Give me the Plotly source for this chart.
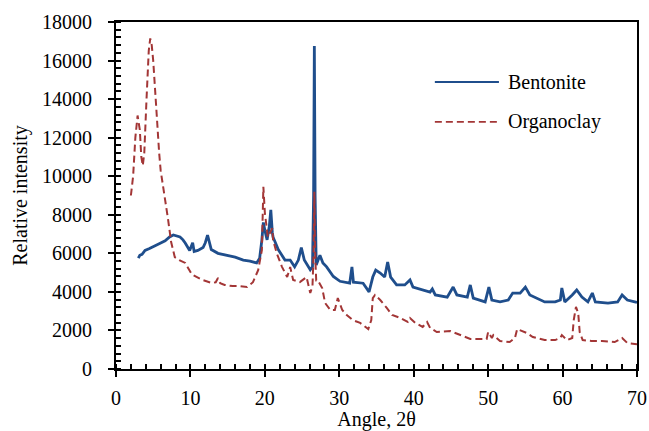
import plotly.graph_objects as go

# ---- data ----
bent_x = [3.0, 3.2, 3.5, 3.9, 4.5, 5.2, 5.8, 6.6, 7.2, 7.7, 8.2, 8.6, 9.0, 9.3, 9.9, 10.2, 10.3, 10.5,
          11.0, 11.7, 12.0, 12.3, 12.6, 12.8, 13.7, 15.0, 16.0, 17.1, 18.0, 18.9, 19.3, 19.6, 19.8,
          20.0, 20.3, 20.6, 20.8, 21.0, 21.1, 21.8, 22.7, 23.4, 24.0, 24.5, 24.9, 25.3, 26.1, 26.4,
          26.55, 26.65, 26.75, 26.9, 27.0, 27.4, 27.8, 28.3, 29.2, 30.1, 31.4, 31.7, 31.9, 32.8,
          33.2, 34.0, 34.5, 34.9, 35.5, 36.1, 36.5, 36.9, 37.7, 38.8, 39.5, 39.9, 41.2, 42.2, 42.5,
          42.9, 44.5, 45.3, 45.8, 47.2, 47.6, 48.0, 49.6, 50.1, 50.5, 51.6, 52.7, 53.3, 54.3, 55.0,
          55.6, 57.0, 57.6, 59.0, 59.7, 59.9, 60.3, 61.3, 61.9, 62.6, 63.4, 64.0, 64.4, 66.1, 67.4,
          68.0, 68.7, 69.7, 70.0]
bent_y = [5750, 5900, 5950, 6150, 6250, 6400, 6500, 6650, 6850, 6950, 6900, 6850, 6700, 6540, 6150, 6400, 6550, 6100,
          6150, 6300, 6550, 6950, 6400, 6200, 6000, 5900, 5800, 5650, 5600, 5500, 5750, 6700, 7600,
          7200, 6700, 7400, 8250, 7100, 6850, 6200, 5650, 5650, 5300, 5650, 6300, 5650, 5150, 5300,
          9000, 16750, 9000, 5400, 5500, 5900, 5500, 5300, 4800, 4550, 4450, 5300, 4500, 4450,
          4450, 4000, 4770, 5130, 4980, 4770, 5550, 4770, 4360, 4360, 4620, 4250, 4100, 3990, 4150,
          3840, 3730, 4250, 3840, 3730, 4360, 3680, 3480, 4250, 3580, 3480, 3580, 3940, 3940, 4250,
          3840, 3580, 3480, 3480, 3580, 4200, 3480, 3840, 4100, 3730, 3480, 3940, 3480, 3420, 3480,
          3840, 3580, 3480, 3450]

org_x = [2.0, 2.3, 2.6, 2.9, 3.2, 3.4, 3.6, 3.8, 4.1, 4.4, 4.6, 4.8, 5.0, 5.3, 5.5, 5.8, 6.0, 6.3,
         6.6, 7.0, 7.4, 7.9, 8.5, 9.3, 10.2, 11.6, 12.9, 13.4, 13.7, 14.0, 14.6, 15.7, 16.5, 17.6,
         18.4, 19.1, 19.6, 19.8, 20.0, 20.3, 20.4, 21.0, 21.1, 21.6, 22.3, 23.0, 23.4, 23.8, 24.7,
         25.6, 26.1, 26.4, 26.55, 26.65, 26.75, 26.9, 27.1, 27.7, 28.1, 28.8, 29.4, 29.8, 30.4,
         31.0, 31.8, 32.8, 33.9, 34.3, 34.5, 34.8, 35.5, 36.4, 37.1, 38.2, 39.2, 39.5, 40.2, 41.2,
         41.8, 42.2, 43.1, 44.9, 46.2, 47.6, 48.9, 49.8, 50.0, 50.5, 50.7, 51.6, 52.9, 53.6, 53.9,
         54.3, 55.2, 56.0, 57.0, 57.6, 59.0, 59.7, 59.9, 60.6, 61.3, 61.5, 61.8, 62.1, 62.3, 62.7,
         63.9, 65.3, 67.0, 68.0, 68.7, 69.7, 70.0]
org_y = [9000, 10000, 12000, 13150, 12400, 11000, 10550, 11200, 14000, 16500, 17150, 16800, 16000, 14000, 12900, 11200, 10300, 9600,
         8800, 7750, 6600, 5800, 5650, 5500, 4900, 4620, 4460, 4500, 4720, 4450, 4360, 4300, 4300, 4250,
         4500, 5130, 6170, 9450, 8100, 7050, 6850, 7300, 6700, 6000, 5300, 4770, 5290, 4620, 4510,
         4770, 3940, 4300, 6000, 9200, 6000, 4600, 4620, 4200, 3420, 3060, 3060, 3680, 3060,
         2800, 2540, 2390, 2075, 2540, 3680, 3840, 3580, 3160, 2800, 2645, 2440, 2645, 2390, 2180,
         2440, 2130, 1920, 1970, 1760, 1560, 1560, 1560, 1920, 1610, 1760, 1450, 1400, 1610, 2075,
         2020, 1870, 1660, 1560, 1500, 1500, 1610, 1760, 1500, 1610, 2540, 3220, 2900, 1920, 1500,
         1450, 1450, 1400, 1610, 1350, 1300, 1280]

x_ticks = [0, 10, 20, 30, 40, 50, 60, 70]
y_ticks = [0, 2000, 4000, 6000, 8000, 10000, 12000, 14000, 16000, 18000]

BLUE = "#1F4E8C"
RED = "#A33636"
FONT = "Liberation Serif"
FS = 20

fig = go.Figure()
fig.add_trace(go.Scatter(x=bent_x, y=bent_y, mode="lines", name="Bentonite",
                         line=dict(color=BLUE, width=2.8), showlegend=False))
fig.add_trace(go.Scatter(x=org_x, y=org_y, mode="lines", name="Organoclay",
                         line=dict(color=RED, width=2, dash="7px,4px"), showlegend=False))

axis_common = dict(showgrid=False, zeroline=False, showline=True, linecolor="black",
                   linewidth=2, mirror=True, ticks="outside", ticklen=6, tickwidth=2,
                   tickcolor="black", tickfont=dict(family=FONT, size=FS, color="black"))

fig.update_layout(
    width=649, height=431, autosize=False,
    margin=dict(l=116, r=12, t=22, b=62),
    paper_bgcolor="white", plot_bgcolor="white",
    font=dict(family=FONT, size=FS, color="black"),
    showlegend=False,
    xaxis=dict(range=[0, 70], tickvals=x_ticks, ticktext=[str(v) for v in x_ticks],
               title=dict(text="Angle, 2θ", font=dict(family=FONT, size=FS), standoff=7),
               minor=dict(dtick=2, ticks="inside", ticklen=5, tickwidth=1.5, tickcolor="black"),
               automargin=False, ticklabelstandoff=4,
               **axis_common),
    yaxis=dict(range=[0, 18000], tickvals=y_ticks, ticktext=[str(v) for v in y_ticks],
               title=dict(text="Relative intensity", font=dict(family=FONT, size=FS), standoff=9),
               minor=dict(dtick=400, ticks="inside", ticklen=5, tickwidth=1.5, tickcolor="black"),
               automargin=False, ticklabelstandoff=12,
               **axis_common),
    xaxis2=dict(range=[0, 70], overlaying="x", anchor="y", side="bottom", matches="x",
                tickvals=x_ticks, showticklabels=False, ticks="inside", ticklen=6, tickwidth=2,
                tickcolor="black", showgrid=False, zeroline=False, showline=False),
    yaxis2=dict(range=[0, 18000], overlaying="y", anchor="x", side="left", matches="y",
                tickvals=y_ticks, showticklabels=False, ticks="inside", ticklen=6, tickwidth=2,
                tickcolor="black", showgrid=False, zeroline=False, showline=False),
)

# manual legend (keys in paper coordinates)
fig.add_shape(type="line", xref="paper", yref="paper", x0=0.612, x1=0.735, y0=0.827, y1=0.827,
              line=dict(color=BLUE, width=2))
fig.add_shape(type="line", xref="paper", yref="paper", x0=0.612, x1=0.735, y0=0.712, y1=0.712,
              line=dict(color=RED, width=1.8, dash="7px,4px"))
fig.add_annotation(xref="paper", yref="paper", x=0.748, y=0.827, text="Bentonite",
                   showarrow=False, xanchor="left", yanchor="middle",
                   font=dict(family=FONT, size=FS, color="black"))
fig.add_annotation(xref="paper", yref="paper", x=0.748, y=0.712, text="Organoclay",
                   showarrow=False, xanchor="left", yanchor="middle",
                   font=dict(family=FONT, size=FS, color="black"))

fig.write_html("out.html", config={"responsive": False})
